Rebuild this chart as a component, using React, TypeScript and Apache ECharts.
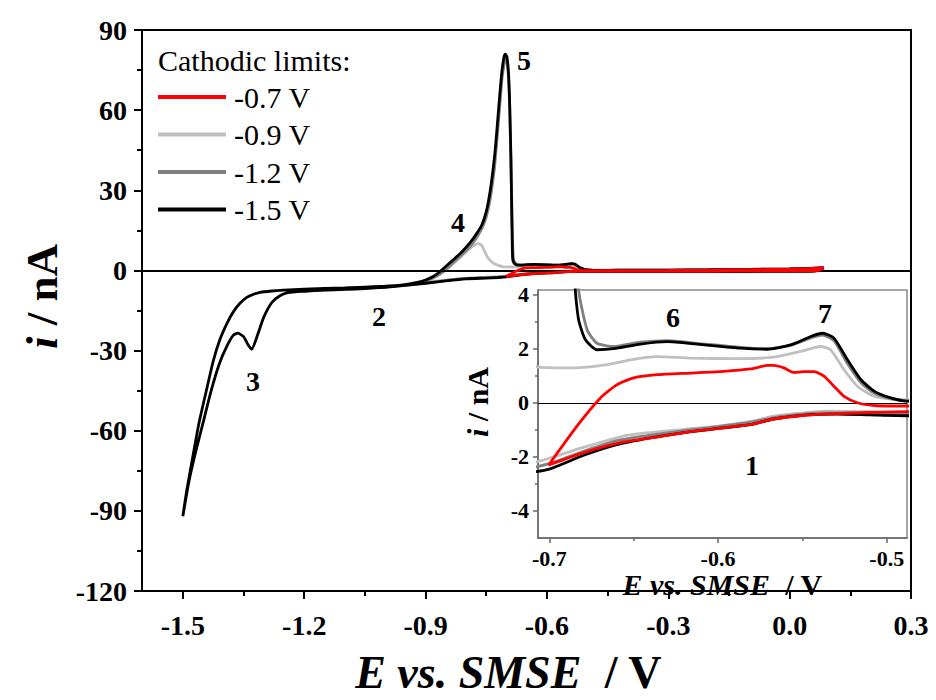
import React, { useEffect, useRef } from 'react';
import * as echarts from 'echarts';

const FONT = '"Liberation Serif", "Times New Roman", serif';

const seriesNames = ['-0.7 V', '-0.9 V', '-1.2 V', '-1.5 V'];
const seriesColors: Record<string, string> = {
  '-0.7 V': '#ff0000',
  '-0.9 V': '#c0c0c0',
  '-1.2 V': '#808080',
  '-1.5 V': '#000000',
};

const xMainTicks = [-1.5, -1.2, -0.9, -0.6, -0.3, 0.0, 0.3];
const xMainMinor = [-1.35, -1.05, -0.75, -0.45, -0.15, 0.15];
const xInsetTicks = [-0.7, -0.6, -0.5];
const xInsetMinor = [-0.65, -0.55];
const yInsetTicks = [-4, -2, 0, 2, 4];
const yInsetMinor = [-3, -1, 1, 3];

// cathodic limit -0.7 V
const cv07: number[][] = [
  [0.084, 1.0], [0.075, 0.2], [0.065, -0.1], [0.05, -0.2], [0.0, -0.25], [-0.1, -0.28], [-0.2, -0.3],
  [-0.3, -0.32], [-0.4, -0.33], [-0.488, -0.33], [-0.51, -0.36], [-0.537, -0.42], [-0.55, -0.47],
  [-0.567, -0.6], [-0.58, -0.8], [-0.6, -0.95], [-0.62, -1.1], [-0.64, -1.3], [-0.656, -1.45],
  [-0.68, -1.85], [-0.7004, -2.3],
  [-0.6836, -0.86], [-0.6697, 0.18], [-0.6598, 0.67], [-0.65, 0.92], [-0.636, 1.04], [-0.6163, 1.1],
  [-0.5966, 1.16], [-0.5807, 1.25], [-0.5708, 1.38], [-0.567, 1.38], [-0.561, 1.29], [-0.555, 1.12],
  [-0.549, 1.15], [-0.543, 1.15], [-0.537, 0.98], [-0.5313, 0.61], [-0.5253, 0.24], [-0.5174, 0.0],
  [-0.5075, -0.1], [-0.488, -0.12], [-0.4, -0.08], [-0.3, 0.0], [-0.2, 0.1], [-0.1, 0.25],
  [0.0, 0.45], [0.05, 0.7], [0.084, 1.0],
];

// cathodic limit -0.9 V
const cv09: number[][] = [
  [0.084, 1.0], [0.075, 0.2], [0.065, -0.1], [0.05, -0.2], [0.0, -0.25], [-0.1, -0.3], [-0.2, -0.32],
  [-0.3, -0.35], [-0.4, -0.36], [-0.488, -0.37], [-0.51, -0.33], [-0.537, -0.31], [-0.55, -0.38],
  [-0.567, -0.49], [-0.58, -0.68], [-0.6, -0.86], [-0.62, -0.98], [-0.64, -1.1], [-0.656, -1.23],
  [-0.68, -1.65], [-0.7, -2.05], [-0.707, -2.17], [-0.75, -2.55], [-0.8, -2.9], [-0.85, -3.6],
  [-0.9, -4.4],
  [-0.89, -3.6], [-0.87, -2.0], [-0.85, 0.2], [-0.83, 2.8], [-0.81, 5.5], [-0.79, 8.2], [-0.78, 9.4],
  [-0.77, 10.0], [-0.762, 9.5], [-0.755, 7.5], [-0.748, 5.2], [-0.74, 3.7], [-0.732, 2.7],
  [-0.72, 1.9], [-0.7064, 1.32], [-0.6856, 1.29], [-0.6658, 1.41], [-0.652, 1.59], [-0.636, 1.71],
  [-0.616, 1.65], [-0.5867, 1.63], [-0.567, 1.69], [-0.551, 1.9], [-0.5392, 2.08], [-0.5333, 1.96],
  [-0.5253, 1.22], [-0.5174, 0.61], [-0.5075, 0.24], [-0.4976, 0.14], [-0.488, 0.12], [-0.4, 0.12],
  [-0.3, 0.15], [-0.2, 0.22], [-0.1, 0.35], [0.0, 0.55], [0.05, 0.75], [0.084, 1.0],
];

// cathodic limit -1.2 V
const cv12: number[][] = [
  [0.084, 1.0], [0.075, 0.2], [0.065, -0.15], [0.05, -0.25], [0.0, -0.3], [-0.1, -0.35], [-0.2, -0.38],
  [-0.3, -0.4], [-0.4, -0.41], [-0.488, -0.42], [-0.51, -0.38], [-0.537, -0.37], [-0.55, -0.42],
  [-0.567, -0.55], [-0.58, -0.72], [-0.6, -0.88], [-0.62, -1.03], [-0.64, -1.2], [-0.66, -1.4],
  [-0.68, -1.8], [-0.7, -2.25], [-0.72, -2.5], [-0.75, -2.7], [-0.8, -3.0], [-0.85, -3.7],
  [-0.9, -4.7], [-0.95, -5.5], [-1.0, -6.2], [-1.05, -6.6], [-1.1, -7.0], [-1.15, -7.3], [-1.2, -7.7],
  [-1.19, -7.4], [-1.15, -7.0], [-1.1, -6.7], [-1.0, -6.0], [-0.95, -5.4], [-0.92, -4.6], [-0.9, -3.9],
  [-0.88, -2.6], [-0.86, -0.9], [-0.845, 1.0], [-0.83, 3.2], [-0.81, 6.0], [-0.79, 9.0], [-0.775, 12],
  [-0.76, 16], [-0.75, 20], [-0.74, 27], [-0.73, 38], [-0.724, 48], [-0.717, 61], [-0.711, 72],
  [-0.706, 77], [-0.703, 79], [-0.699, 78], [-0.695, 72], [-0.692, 60], [-0.689, 40], [-0.686, 18],
  [-0.684, 7], [-0.6826, 4.17], [-0.6776, 2.7], [-0.6717, 2.2], [-0.6618, 2.08], [-0.646, 2.24],
  [-0.63, 2.3], [-0.6124, 2.2], [-0.5867, 2.05], [-0.5708, 2.0], [-0.557, 2.12], [-0.545, 2.4],
  [-0.538, 2.5], [-0.5313, 2.3], [-0.5233, 1.45], [-0.5154, 0.75], [-0.5075, 0.36], [-0.4976, 0.15],
  [-0.488, 0.06], [-0.45, 0.05], [-0.4, 0.1], [-0.3, 0.15], [-0.2, 0.24], [-0.1, 0.38], [0.0, 0.58],
  [0.05, 0.78], [0.084, 1.0],
];

// cathodic limit -1.5 V
const cv15: number[][] = [
  [0.084, 1.0], [0.075, 0.2], [0.065, -0.2], [0.05, -0.3], [0.0, -0.35], [-0.1, -0.4], [-0.2, -0.43],
  [-0.3, -0.45], [-0.4, -0.47], [-0.488, -0.48], [-0.51, -0.45], [-0.53, -0.42], [-0.547, -0.45],
  [-0.567, -0.6], [-0.58, -0.8], [-0.59, -0.88], [-0.6, -0.95], [-0.62, -1.1], [-0.64, -1.3],
  [-0.66, -1.55], [-0.68, -1.95], [-0.7, -2.45], [-0.72, -2.65], [-0.75, -2.85], [-0.8, -3.15],
  [-0.85, -3.9], [-0.9, -4.8], [-0.95, -5.6], [-1.0, -6.3], [-1.05, -6.8], [-1.1, -7.1], [-1.15, -7.4],
  [-1.2, -7.8], [-1.24, -8.3], [-1.26, -9.5], [-1.28, -12], [-1.3, -17.5], [-1.315, -24], [-1.33, -29.5],
  [-1.34, -27.5], [-1.35, -24.8], [-1.364, -23.5], [-1.375, -24.2], [-1.39, -28], [-1.41, -35],
  [-1.43, -45], [-1.45, -57], [-1.47, -69], [-1.485, -79], [-1.5, -92],
  [-1.49, -82], [-1.475, -69.4], [-1.46, -57], [-1.441, -44.4], [-1.425, -34], [-1.408, -25.7],
  [-1.39, -19.5], [-1.376, -15.7], [-1.36, -12.5], [-1.342, -10.1], [-1.325, -8.9], [-1.309, -8.2],
  [-1.28, -7.7], [-1.252, -7.4], [-1.2, -7.0], [-1.1, -6.5], [-1.0, -5.9], [-0.95, -5.3], [-0.92, -4.5],
  [-0.9, -3.6], [-0.88, -2.2], [-0.864, -0.4], [-0.85, 1.5], [-0.83, 4.2], [-0.81, 7.0], [-0.79, 10.4],
  [-0.775, 13.5], [-0.761, 17], [-0.75, 22], [-0.74, 30], [-0.73, 42], [-0.724, 52], [-0.717, 65],
  [-0.711, 75], [-0.706, 80], [-0.703, 81], [-0.699, 80], [-0.695, 74], [-0.692, 62], [-0.689, 42],
  [-0.687, 22], [-0.6855, 8], [-0.6846, 4.2], [-0.6826, 3.06], [-0.6786, 2.33], [-0.6717, 1.96],
  [-0.6618, 2.0], [-0.646, 2.17], [-0.63, 2.26], [-0.6124, 2.17], [-0.5867, 2.02], [-0.5708, 1.98],
  [-0.557, 2.14], [-0.545, 2.45], [-0.538, 2.57], [-0.5313, 2.39], [-0.5233, 1.59], [-0.5154, 0.86],
  [-0.5075, 0.43], [-0.4976, 0.18], [-0.488, 0.06], [-0.45, 0.05], [-0.4, 0.1], [-0.3, 0.15],
  [-0.2, 0.25], [-0.1, 0.4], [0.0, 0.6], [0.05, 0.8], [0.084, 1.0],
];

const curveData: Record<string, number[][]> = {
  '-0.7 V': cv07,
  '-0.9 V': cv09,
  '-1.2 V': cv12,
  '-1.5 V': cv15,
};

// drawing order (red on top)
const drawOrder = ['-0.9 V', '-1.2 V', '-1.5 V', '-0.7 V'];

const annotations = [
  { t: '5', x: 524, y: 60 },
  { t: '4', x: 458, y: 222 },
  { t: '3', x: 253, y: 381 },
  { t: '2', x: 379, y: 316 },
  { t: '1', x: 752, y: 465 },
  { t: '6', x: 673, y: 317 },
  { t: '7', x: 825, y: 313 },
];

const fmt1 = (v: number) => (Math.abs(v) < 1e-9 ? '0.0' : v.toFixed(1));

function buildOption() {
  const boldLabel = (size: number) => ({
    fontSize: size,
    fontWeight: 'bold' as const,
    fontFamily: FONT,
    color: '#000',
  });
  const richTitle = (size: number) => ({
    a: { fontSize: size, fontWeight: 'bold', fontStyle: 'italic', fontFamily: FONT, color: '#000' },
    b: { fontSize: size, fontWeight: 'bold', fontStyle: 'normal', fontFamily: FONT, color: '#000' },
  });
  const blackLine = { color: '#000', width: 2 };
  const insetLine = { color: '#666', width: 1.5 };

  const makeSeries = (name: string, k: number, xi: number, yi: number, zeroWidth: number) => {
    const s: any = {
      name,
      type: 'line',
      xAxisIndex: xi,
      yAxisIndex: yi,
      data: curveData[name],
      showSymbol: false,
      symbol: 'none',
      smooth: 0.2,
      clip: true,
      lineStyle: { color: seriesColors[name], width: 2.8 },
      itemStyle: { color: seriesColors[name] },
      z: 3 + k,
    };
    if (k === 0) {
      s.markLine = {
        silent: true,
        symbol: ['none', 'none'],
        label: { show: false },
        lineStyle: { color: '#000', width: zeroWidth, type: 'solid' },
        data: [{ yAxis: 0 }],
      };
    }
    return s;
  };

  const series: any[] = [
    ...drawOrder.map((name, k) => makeSeries(name, k, 0, 0, 2)),
    ...drawOrder.map((name, k) => makeSeries(name, k, 2, 1, 1)),
  ];

  return {
    animation: false,
    backgroundColor: '#fff',
    legend: {
      data: seriesNames,
      orient: 'vertical',
      left: 158,
      top: 82,
      padding: 0,
      itemWidth: 68,
      itemHeight: 4,
      itemGap: 7.5,
      icon: 'rect',
      selectedMode: false,
      textStyle: {
        fontSize: 30,
        lineHeight: 30,
        fontFamily: FONT,
        color: '#000',
        padding: [0, 0, 0, 3],
      },
    },
    grid: [
      {
        left: 142, top: 30, right: 25, bottom: 107,
        show: true, borderColor: '#000', borderWidth: 2, backgroundColor: 'transparent',
      },
      {
        left: 538, top: 290, right: 29, bottom: 162,
        show: true, borderColor: '#888', borderWidth: 1.5, backgroundColor: '#fff',
      },
    ],
    xAxis: [
      {
        gridIndex: 0, type: 'value', min: -1.601, max: 0.3, position: 'bottom',
        name: '{a|E vs. SMSE}{b|  / V}',
        nameLocation: 'middle', nameGap: 58,
        nameTextStyle: { fontSize: 46, rich: richTitle(46), padding: [0, 36, 0, 0] },
        axisLine: { show: true, onZero: false, lineStyle: blackLine },
        axisTick: { show: true, customValues: xMainTicks, length: 8, lineStyle: blackLine },
        axisLabel: { customValues: xMainTicks, formatter: fmt1, margin: 20, ...boldLabel(28) },
        splitLine: { show: false },
      },
      {
        gridIndex: 0, type: 'value', min: -1.601, max: 0.3, position: 'bottom',
        axisLine: { show: false, onZero: false },
        axisTick: { show: true, customValues: xMainMinor, length: 5, lineStyle: blackLine },
        axisLabel: { show: false },
        splitLine: { show: false },
      },
      {
        gridIndex: 1, type: 'value', min: -0.7067, max: -0.488, position: 'bottom',
        name: '{a|E vs. SMSE}{b|  / V}',
        nameLocation: 'middle', nameGap: 17,
        nameTextStyle: { fontSize: 30, rich: richTitle(30) },
        axisLine: { show: true, onZero: false, lineStyle: insetLine },
        axisTick: { show: true, customValues: xInsetTicks, length: 5, lineStyle: insetLine },
        axisLabel: { customValues: xInsetTicks, formatter: fmt1, margin: 9, ...boldLabel(22) },
        splitLine: { show: false },
      },
      {
        gridIndex: 1, type: 'value', min: -0.7067, max: -0.488, position: 'bottom',
        axisLine: { show: false, onZero: false },
        axisTick: { show: true, customValues: xInsetMinor, length: 3, lineStyle: insetLine },
        axisLabel: { show: false },
        splitLine: { show: false },
      },
    ],
    yAxis: [
      {
        gridIndex: 0, type: 'value', min: -120, max: 90, interval: 30, position: 'left',
        name: '{a|i}{b| / nA}',
        nameLocation: 'middle', nameRotate: 90, nameGap: 62,
        nameTextStyle: { fontSize: 45, rich: richTitle(45), padding: [0, 0, 0, 28] },
        axisLine: { show: true, onZero: false, lineStyle: blackLine },
        axisTick: { show: true, length: 8, lineStyle: blackLine },
        minorTick: { show: true, splitNumber: 2, length: 5, lineStyle: blackLine },
        axisLabel: { margin: 15, ...boldLabel(28) },
        splitLine: { show: false },
        minorSplitLine: { show: false },
      },
      {
        gridIndex: 1, type: 'value', min: -5, max: 4.17, position: 'left',
        name: '{a|i}{b| / nA}',
        nameLocation: 'middle', nameRotate: 90, nameGap: 46,
        nameTextStyle: { fontSize: 30, rich: richTitle(30), padding: [0, 0, 0, 24] },
        axisLine: { show: true, onZero: false, lineStyle: insetLine },
        axisTick: { show: true, customValues: yInsetTicks, length: 5, lineStyle: insetLine },
        axisLabel: { customValues: yInsetTicks, margin: 9, ...boldLabel(22) },
        splitLine: { show: false },
      },
      {
        gridIndex: 1, type: 'value', min: -5, max: 4.17, position: 'left',
        axisLine: { show: false, onZero: false },
        axisTick: { show: true, customValues: yInsetMinor, length: 3, lineStyle: insetLine },
        axisLabel: { show: false },
        splitLine: { show: false },
      },
    ],
    graphic: [
      {
        type: 'text', x: 158, y: 60, z: 100,
        style: {
          text: 'Cathodic limits:', fontSize: 30, fontFamily: FONT, fill: '#000',
          align: 'left', verticalAlign: 'middle',
        },
      },
      ...annotations.map((a) => ({
        type: 'text', x: a.x, y: a.y, z: 100,
        style: {
          text: a.t, fontSize: 28, fontWeight: 'bold', fontFamily: FONT, fill: '#000',
          align: 'center', verticalAlign: 'middle',
        },
      })),
    ],
    series,
  };
}

export default function App() {
  const ref = useRef<HTMLDivElement>(null);
  useEffect(() => {
    if (!ref.current) return;
    const chart = echarts.init(ref.current, null, { renderer: 'svg' });
    chart.setOption(buildOption() as any);
    return () => chart.dispose();
  }, []);
  return (
    <div
      ref={ref}
      style={{ position: 'fixed', left: 0, top: 0, width: 936, height: 700, background: '#fff' }}
    />
  );
}
